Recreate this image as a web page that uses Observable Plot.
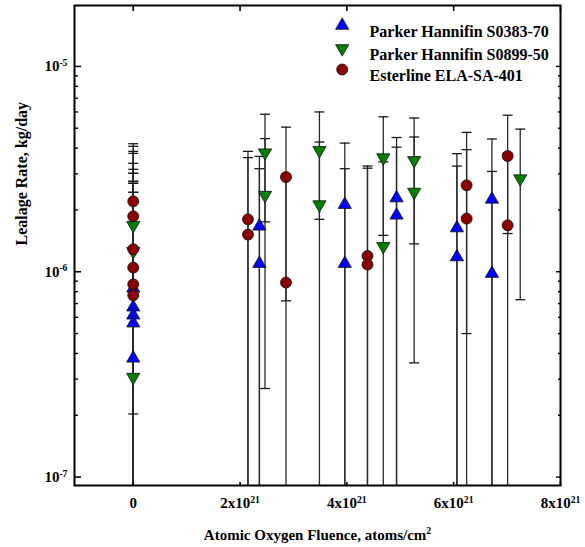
<!DOCTYPE html>
<html><head><meta charset="utf-8">
<script src="https://cdn.jsdelivr.net/npm/d3@7"></script>
<script src="https://cdn.jsdelivr.net/npm/@observablehq/plot@0.6"></script>
<style>
body{margin:0;background:#fff;}
#chart svg{font-family:"Liberation Serif","Times New Roman",serif;font-weight:bold;background:#fff;}
</style></head><body><div id="chart"></div>
<script>
// ---------- data ----------
const seriesNames = ["Parker Hannifin S0383-70", "Parker Hannifin S0899-50", "Esterline ELA-SA-401"];

const xTicks = [0, 2e21, 4e21, 6e21, 8e21];
const xTickLabels = ["0", "2x10^21", "4x10^21", "6x10^21", "8x10^21"];
const yTicks = [1e-7, 1e-6, 1e-5];
const yTickLabels = ["10^-7", "10^-6", "10^-5"];
const yMinorTicks = [2e-7, 3e-7, 4e-7, 5e-7, 6e-7, 7e-7, 8e-7, 9e-7,
                     2e-6, 3e-6, 4e-6, 5e-6, 6e-6, 7e-6, 8e-6, 9e-6];

const xTitle = "Atomic Oxygen Fluence, atoms/cm^2";
const yTitle = "Lealage Rate, kg/day";

// Parker Hannifin S0383-70 (blue up-triangles)
const s1Fluence = [0, 0, 0, 0, 0, 2.362e21, 2.362e21, 3.961e21, 3.961e21, 4.930e21, 4.930e21, 6.060e21, 6.060e21, 6.716e21, 6.716e21];
const s1Rate    = [8.31e-7, 6.72e-7, 6.14e-7, 5.62e-7, 3.79e-7, 1.665e-6, 1.096e-6, 2.123e-6, 1.096e-6, 2.286e-6, 1.884e-6, 1.633e-6, 1.18e-6, 2.253e-6, 9.80e-7];
const s1Err     = [2.184e-6, 2.085e-6, 2.082e-6, 2.134e-6, 2.058e-6, 1.98e-6, 2.08e-6, 2.11e-6, 2.08e-6, 2.22e-6, 2.16e-6, 2.126e-6, 2.09e-6, 2.18e-6, 2.10e-6];

// Parker Hannifin S0899-50 (green down-triangles)
const s2Fluence = [0, 0, 0, 2.467e21, 2.467e21, 3.486e21, 3.486e21, 4.682e21, 4.682e21, 5.260e21, 5.260e21, 7.246e21];
const s2Rate    = [1.683e-6, 1.258e-6, 3.066e-7, 3.80e-6, 2.36e-6, 3.902e-6, 2.123e-6, 3.594e-6, 1.33e-6, 3.487e-6, 2.445e-6, 2.841e-6];
const s2Err     = [2.175e-6, 2.115e-6, 2.13e-6, 2.05e-6, 2.09e-6, 2.10e-6, 2.16e-6, 2.09e-6, 2.10e-6, 2.12e-6, 2.085e-6, 2.11e-6];

// Esterline ELA-SA-401 (red circles)
const s3Fluence = [0, 0, 0, 0, 0, 0, 2.148e21, 2.148e21, 2.860e21, 2.860e21, 4.386e21, 4.386e21, 6.242e21, 6.242e21, 7.010e21, 7.010e21];
const s3Rate    = [2.203e-6, 1.862e-6, 1.287e-6, 1.048e-6, 8.69e-7, 7.68e-7, 1.801e-6, 1.517e-6, 2.892e-6, 8.86e-7, 1.194e-6, 1.084e-6, 2.636e-6, 1.815e-6, 3.66e-6, 1.683e-6];
const s3Err     = [2.0e-6, 2.22e-6, 2.485e-6, 2.106e-6, 2.146e-6, 1.989e-6, 2.057e-6, 2.08e-6, 2.17e-6, 2.10e-6, 2.08e-6, 2.11e-6, 2.136e-6, 2.117e-6, 2.125e-6, 2.10e-6];

// ---------- chart ----------
const yDomain = [9.1e-8, 1.98e-5];
const xDomain = [-1.1e21, 8e21];

const sqrt3 = Math.sqrt(3);
const triDown = {draw(ctx, size) {
  const y = -Math.sqrt(size / (sqrt3 * 3));
  ctx.moveTo(0, -2 * y); ctx.lineTo(-sqrt3 * y, y); ctx.lineTo(sqrt3 * y, y); ctx.closePath();
}};
const capSym = {draw(ctx, size) {
  const r = Math.sqrt(size / Math.PI);
  ctx.moveTo(-r, 0); ctx.lineTo(r, 0);
}};

const series = [
  {name: seriesNames[0], xs: s1Fluence, ys: s1Rate, es: s1Err, fill: "#0000ff", symbol: "triangle", r: 4.9},
  {name: seriesNames[1], xs: s2Fluence, ys: s2Rate, es: s2Err, fill: "#008000", symbol: triDown, r: 4.9},
  {name: seriesNames[2], xs: s3Fluence, ys: s3Rate, es: s3Err, fill: "#8b0000", symbol: "circle", r: 5.5}
];
const rows = series.flatMap(s => s.xs.map((x, i) => ({name: s.name, x, y: s.ys[i], e: s.es[i]})));
const caps = [];
for (const d of rows) {
  if (d.y + d.e < yDomain[1]) caps.push({x: d.x, y: d.y + d.e});
  if (d.y - d.e > yDomain[0]) caps.push({x: d.x, y: d.y - d.e});
}

const legendDy = [20, 43, 64];
const frameLeft = 74;

const marks = [
  Plot.ruleX(rows, {x: "x", y1: d => Math.max(d.y - d.e, yDomain[0]), y2: d => Math.min(d.y + d.e, yDomain[1]),
    stroke: "#2a2a2a", strokeWidth: 1.3, clip: true}),
  Plot.dot(caps, {x: "x", y: "y", symbol: capSym, r: 5, stroke: "#1a1a1a", strokeWidth: 1.3, fill: "none"}),
  ...series.map(s => Plot.dot(rows.filter(d => d.name === s.name),
    {x: "x", y: "y", symbol: s.symbol, r: s.r, fill: s.fill, stroke: "#111", strokeWidth: 0.8})),
  // axes
  Plot.axisY({anchor: "left", ticks: yTicks, tickSize: -7, tickPadding: 14, strokeWidth: 1.6,
    tickFormat: d => yTickLabels[yTicks.indexOf(d)], fontSize: 15, label: null}),
  Plot.axisY({anchor: "left", ticks: yMinorTicks, tickSize: -4, strokeWidth: 1.4, tickFormat: () => "", label: null}),
  Plot.axisY({anchor: "right", ticks: yTicks, tickSize: -5, strokeWidth: 1.4, tickFormat: () => "", label: null}),
  Plot.axisY({anchor: "right", ticks: yMinorTicks, tickSize: -3, strokeWidth: 1.4, tickFormat: () => "", label: null}),
  Plot.axisX({anchor: "bottom", ticks: xTicks, tickSize: -3, tickPadding: 15, strokeWidth: 1.6,
    tickFormat: d => xTickLabels[xTicks.indexOf(d)], fontSize: 15, label: null}),
  Plot.axisX({anchor: "top", ticks: xTicks, tickSize: -5, strokeWidth: 1.6, tickFormat: () => "", label: null}),
  Plot.frame({stroke: "black", strokeWidth: 2}),
  // titles
  Plot.text([xTitle], {frameAnchor: "bottom", dy: 54, fontSize: 15, fontWeight: "bold"}),
  Plot.text([yTitle], {frameAnchor: "left", dx: -53, rotate: -90, fontSize: 16, fontWeight: "bold"}),
  // legend
  ...series.map((s, i) => Plot.dot([s.name], {frameAnchor: "top-left", dx: 341.7 - frameLeft, dy: legendDy[i],
    symbol: s.symbol, r: s.r, fill: s.fill, stroke: "#111", strokeWidth: 0.8})),
  ...series.map((s, i) => Plot.text([s.name], {frameAnchor: "top-left", dx: 369 - frameLeft, dy: legendDy[i],
    text: d => d, textAnchor: "start", fontSize: 16, fontWeight: "bold"}))
];

const chart = Plot.plot({
  width: 585, height: 547,
  marginLeft: frameLeft, marginRight: 25, marginTop: 5, marginBottom: 62,
  x: {type: "linear", domain: xDomain},
  y: {type: "log", domain: yDomain},
  style: {fontFamily: "'Liberation Serif', 'Times New Roman', serif", fontWeight: "bold", fontSize: "15px", background: "#fff", color: "black"},
  marks
});

// superscripts
chart.querySelectorAll("text").forEach(t => {
  const s = t.textContent;
  const i = s.indexOf("^");
  if (i < 0) return;
  t.textContent = s.slice(0, i);
  const ts = document.createElementNS("http://www.w3.org/2000/svg", "tspan");
  ts.setAttribute("dy", "-0.55em");
  ts.setAttribute("font-size", "0.65em");
  ts.textContent = s.slice(i + 1);
  t.appendChild(ts);
});
document.getElementById("chart").appendChild(chart);
</script>
</body></html>
